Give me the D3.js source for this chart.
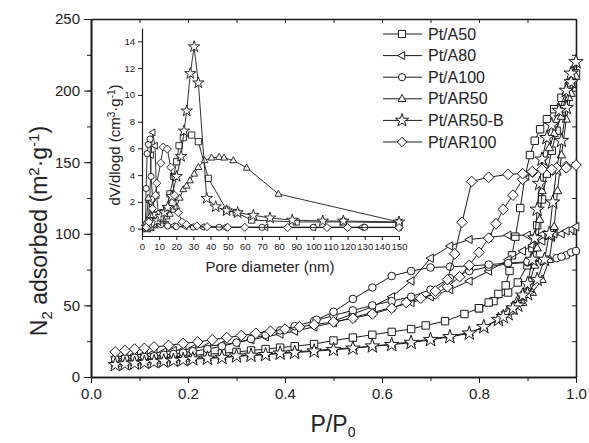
<!DOCTYPE html>
<html><head><meta charset="utf-8">
<script src="https://cdn.jsdelivr.net/npm/d3@7"></script>
<style>
body{margin:0;background:#fff}
svg{display:block}
text{font-family:"Liberation Sans",Arial,sans-serif;fill:#222}
</style>
</head><body>
<svg id="chart" width="589" height="443"></svg>
<script>
// ---------- data ----------
const seriesNames = ["Pt/A50","Pt/A80","Pt/A100","Pt/AR50","Pt/AR50-B","Pt/AR100"];
const markerTypes = ["square","triangleLeft","circle","triangleUp","star","diamond"];
const xTicksMain = [0,0.2,0.4,0.6,0.8,1.0];
const yTicksMain = [0,50,100,150,200,250];
const xTicksInset = [0,10,20,30,40,50,60,70,80,90,100,110,120,130,140,150];
const yTicksInset = [0,2,4,6,8,10,12,14];

// isotherms [P/P0, N2 adsorbed]
const a50Ads = [[0.05,11],[0.07,11.5],[0.09,12],[0.11,12.5],[0.13,13],[0.15,13.5],[0.17,14],[0.19,14.5],[0.21,15],[0.24,16],[0.27,16.5],[0.30,17.5],[0.33,18.5],[0.36,19.5],[0.39,20.5],[0.42,21.5],[0.46,23],[0.50,25.5],[0.54,27.5],[0.58,29.5],[0.62,31.5],[0.66,33.5],[0.69,36],[0.73,39],[0.77,44],[0.80,48],[0.83,53],[0.86,59],[0.88,66],[0.90,78],[0.91,90],[0.92,106],[0.93,124],[0.94,142],[0.95,158],[0.96,172],[0.97,185],[0.98,196],[0.99,205],[1.0,212]];
const a50Des = [[1.0,212],[0.985,203],[0.97,195],[0.955,187],[0.94,180],[0.926,173],[0.915,165],[0.905,155],[0.895,140],[0.885,118],[0.875,98],[0.868,85],[0.863,74],[0.855,64],[0.84,58],[0.82,52],[0.80,48]];
const a80Ads = [[0.05,14],[0.07,14.5],[0.09,15.5],[0.11,16],[0.13,17],[0.15,17.5],[0.17,18.5],[0.19,19],[0.21,20],[0.24,21.5],[0.27,22.5],[0.30,24],[0.33,26],[0.36,28],[0.39,30],[0.42,32],[0.46,35],[0.50,38],[0.54,41.5],[0.58,45],[0.62,48.5],[0.66,52],[0.70,56],[0.74,61],[0.78,67],[0.82,74],[0.86,82],[0.89,88],[0.91,92],[0.93,95],[0.95,97.5],[0.97,100],[0.99,103],[1.0,105]];
const a80Des = [[1.0,105],[0.98,102],[0.955,100],[0.93,99.5],[0.90,99],[0.86,99],[0.82,97.5],[0.78,96],[0.74,91.5],[0.70,83],[0.66,67],[0.62,56],[0.58,49],[0.54,44],[0.50,39]];
const a100Ads = [[0.05,12.5],[0.07,13],[0.09,13.5],[0.11,14],[0.13,14.5],[0.15,15.5],[0.17,16],[0.19,17],[0.21,18],[0.24,19.5],[0.27,21.5],[0.30,24],[0.33,26.5],[0.36,29.5],[0.39,32.5],[0.42,35.5],[0.46,39],[0.50,43],[0.54,46.5],[0.58,50],[0.62,53],[0.66,56],[0.70,61],[0.74,69],[0.78,74],[0.82,77],[0.86,79],[0.90,80],[0.93,81],[0.96,83],[0.98,85],[0.99,87],[1.0,88]];
const a100Des = [[1.0,88],[0.97,84],[0.94,82],[0.90,80.5],[0.86,79.5],[0.82,78.5],[0.78,77.5],[0.74,77],[0.70,76.5],[0.66,74],[0.62,70.5],[0.58,62.5],[0.54,54.5],[0.50,45.5],[0.465,40]];
const ar50Ads = [[0.05,9],[0.07,9.5],[0.09,10],[0.11,10.5],[0.13,11],[0.15,11.5],[0.17,12],[0.19,12.5],[0.21,13],[0.24,13.5],[0.27,14],[0.30,14.5],[0.33,15.5],[0.36,16],[0.39,16.5],[0.42,17.5],[0.46,18.5],[0.50,19.5],[0.54,20.5],[0.58,21.5],[0.62,23],[0.66,24.5],[0.70,26.5],[0.74,28.5],[0.78,31],[0.81,35],[0.84,40],[0.87,46],[0.89,52],[0.91,59],[0.93,68],[0.945,82],[0.955,105],[0.962,130],[0.97,155],[0.98,180],[0.99,198],[1.0,210]];
const ar50Des = [[1.0,210],[0.985,195],[0.97,182],[0.955,170],[0.945,160],[0.935,148],[0.93,130],[0.925,110],[0.92,90],[0.915,78],[0.905,67],[0.895,60],[0.88,54],[0.86,47]];
const ar50bAds = [[0.05,8.5],[0.07,9],[0.09,9.5],[0.11,10],[0.13,10.5],[0.15,11],[0.17,11.5],[0.19,12],[0.21,12.5],[0.24,13],[0.27,13.5],[0.30,14.5],[0.33,15],[0.36,15.5],[0.39,16.5],[0.42,17],[0.46,18],[0.50,19],[0.54,20],[0.58,21.5],[0.62,22.5],[0.66,24],[0.70,26],[0.74,28],[0.78,30.5],[0.81,35],[0.84,40],[0.86,44],[0.88,50],[0.90,58],[0.92,68],[0.935,82],[0.945,100],[0.952,122],[0.96,145],[0.97,165],[0.98,188],[0.99,206],[1.0,220]];
const ar50bDes = [[1.0,220],[0.99,212],[0.98,200],[0.965,186],[0.95,176],[0.94,167],[0.93,152],[0.925,135],[0.92,117],[0.915,97],[0.91,82],[0.90,65],[0.89,57],[0.87,48],[0.85,42]];
const ar100Ads = [[0.05,17.5],[0.07,18.5],[0.09,19.5],[0.11,20],[0.13,21],[0.16,22],[0.19,23.5],[0.22,24.5],[0.25,26],[0.28,27.5],[0.31,29],[0.34,30.5],[0.37,32],[0.40,33.5],[0.43,35],[0.46,36.5],[0.50,38.5],[0.54,41],[0.58,44],[0.62,48],[0.65,52],[0.68,55],[0.71,58],[0.735,63],[0.76,70],[0.78,78],[0.80,87],[0.82,97],[0.835,107],[0.85,117],[0.87,127],[0.89,138],[0.91,143],[0.93,145],[0.96,146],[0.98,147],[1.0,148]];
const ar100Des = [[1.0,148],[0.98,146],[0.95,145],[0.91,143.5],[0.89,142],[0.86,141.5],[0.82,139.5],[0.785,136.5],[0.765,108],[0.75,86],[0.735,68],[0.71,60]];

// pore size distributions [pore diameter nm, dV/dlogd]
const a50Psd = [[3,0],[5,0.1],[7,0.3],[9,0.6],[11,1.0],[12.5,1.2],[14.4,1.5],[16.3,2.6],[18.5,3.9],[20.2,5.0],[21.6,6.2],[24.1,6.8],[29,7.0],[32.9,6.5],[38.7,3.76],[49.4,1.39],[55,1.2],[64,0.64],[90,0.5],[117.5,0.5],[150,0.45]];
const a80Psd = [[2.5,0.1],[3.5,0.5],[4.5,2.0],[5.3,5.5],[6.2,7.2],[7.6,6.2],[8.5,2.5],[9.5,1.2],[11,0.5],[14,0.3],[18,0.2],[25,0.15],[35,0.12],[48,0.1],[72,0.1],[100,0.1],[128,0.1],[150,0.1]];
const a100Psd = [[2,0.3],[2.4,3.0],[3.0,5.6],[3.7,6.3],[4.7,6.7],[5.3,3.9],[6.2,2.2],[7.5,1.0],[9,0.5],[11,0.3],[15,0.2],[20,0.15],[30,0.12],[45,0.1],[70,0.1],[100,0.1],[130,0.1],[150,0.1]];
const ar50Psd = [[2.5,0.5],[3.7,2.3],[5,1.0],[7,0.6],[9,0.6],[11,0.6],[12.4,0.7],[14.5,0.9],[16.3,1.1],[18.2,1.4],[20.2,1.64],[22,2.3],[24.1,2.94],[26,3.2],[28,3.6],[30.5,4.1],[32.9,4.6],[36.5,5.1],[40.6,5.3],[45,5.35],[47.9,5.3],[53.3,5.1],[61.1,4.55],[79.6,2.59],[150,0.5]];
const ar50bPsd = [[3,0.1],[5,0.2],[7,0.4],[9,0.6],[11,0.9],[13,1.2],[15,1.6],[17.3,2.4],[20.2,3.9],[22.8,5.4],[24.5,7.3],[26.1,8.8],[28.2,11.6],[30.4,13.6],[32.9,10.9],[37.8,2.26],[43,1.64],[49.4,1.34],[55.8,1.2],[65,1.0],[74.7,0.8],[87.7,0.64],[105.5,0.57],[117.5,0.57],[150,0.5]];
const ar100Psd = [[2.5,0.1],[4,0.5],[6,1.5],[7.9,2.5],[8.6,3.4],[10.9,4.9],[12.4,6.1],[14.8,5.95],[16.7,4.6],[19,2.5],[21.2,1.2],[23.5,0.5],[26,0.3],[32,0.2],[38,0.15],[50,0.1],[60,0.1],[85,0.08],[108,0.08],[120,0.08],[150,0.08]];

const isoAds = [a50Ads,a80Ads,a100Ads,ar50Ads,ar50bAds,ar100Ads];
const isoDes = [a50Des,a80Des,a100Des,ar50Des,ar50bDes,ar100Des];
const psd = [a50Psd,a80Psd,a100Psd,ar50Psd,ar50bPsd,ar100Psd];

// ---------- drawing ----------
const svg = d3.select("#chart");
const ink = "#1a1a1a";

function markerPath(type, s){
  switch(type){
    case "square": return `M${-s},${-s}h${2*s}v${2*s}h${-2*s}Z`;
    case "circle": return d3.symbol(d3.symbolCircle, Math.PI*s*s)();
    case "triangleUp": return `M0,${-1.2*s}L${1.1*s},${0.75*s}L${-1.1*s},${0.75*s}Z`;
    case "triangleLeft": return `M${-1.2*s},0L${0.75*s},${-1.1*s}L${0.75*s},${1.1*s}Z`;
    case "diamond": return `M0,${-1.3*s}L${1.3*s},0L0,${1.3*s}L${-1.3*s},0Z`;
    case "star": return d3.symbol(d3.symbolStar, 4.2*s*s)();
  }
}
const mainSize = {square:3.7,triangleLeft:3.8,circle:3.8,triangleUp:3.8,star:3.9,diamond:4.1};

// main scales
const x = d3.scaleLinear([0,1],[91,576]);
const y = d3.scaleLinear([0,250],[377,19]);

function styleAxis(g, sw){
  g.selectAll(".domain").attr("stroke",ink).attr("stroke-width",sw);
  g.selectAll(".tick line").attr("stroke",ink).attr("stroke-width",1);
}

const xMinor = d3.range(0,1.0001,0.1);
const yMinor = d3.range(0,250.1,25);

// bottom
svg.append("g").attr("transform","translate(0,377)")
  .call(d3.axisBottom(x).tickValues(xMinor).tickFormat("").tickSize(4).tickSizeOuter(0)).call(g=>styleAxis(g,1.6));
svg.append("g").attr("transform","translate(0,377)")
  .call(d3.axisBottom(x).tickValues(xTicksMain).tickFormat(d3.format(".1f")).tickSize(6).tickSizeOuter(0).tickPadding(5))
  .call(g=>{styleAxis(g,1.6); g.selectAll("text").attr("font-size",15).attr("fill","#222");});
// left
svg.append("g").attr("transform","translate(91,0)")
  .call(d3.axisLeft(y).tickValues(yMinor).tickFormat("").tickSize(4).tickSizeOuter(0)).call(g=>styleAxis(g,1.6));
svg.append("g").attr("transform","translate(91,0)")
  .call(d3.axisLeft(y).tickValues(yTicksMain).tickSize(7).tickSizeOuter(0).tickPadding(4))
  .call(g=>{styleAxis(g,1.6); g.selectAll("text").attr("font-size",15).attr("fill","#222");});
// top (mirror, inward)
svg.append("g").attr("transform","translate(0,19)")
  .call(d3.axisTop(x).tickValues(xMinor).tickFormat("").tickSize(-4).tickSizeOuter(0)).call(g=>styleAxis(g,1.6));
// right (mirror, inward)
svg.append("g").attr("transform","translate(576,0)")
  .call(d3.axisRight(y).tickValues(yMinor).tickFormat("").tickSize(-4).tickSizeOuter(0)).call(g=>styleAxis(g,1.6));

// axis titles
const yt = svg.append("text").attr("transform","translate(47,231) rotate(-90)")
  .attr("text-anchor","middle").attr("font-size",23);
yt.append("tspan").text("N");
yt.append("tspan").attr("font-size",15).attr("baseline-shift","-30%").text("2");
yt.append("tspan").text(" adsorbed (m");
yt.append("tspan").attr("font-size",15).attr("baseline-shift","super").text("2");
yt.append("tspan").text("·g");
yt.append("tspan").attr("font-size",15).attr("baseline-shift","super").text("-1");
yt.append("tspan").text(")");

const xt = svg.append("text").attr("x",333).attr("y",432).attr("text-anchor","middle").attr("font-size",23);
xt.append("tspan").text("P/P");
xt.append("tspan").attr("font-size",14).attr("baseline-shift","-35%").text("0");

// main series
const lineMain = d3.line().x(d=>x(d[0])).y(d=>y(d[1]));
const mainG = svg.append("g");
seriesNames.forEach((name,i)=>{
  const g = mainG.append("g");
  [isoAds[i], isoDes[i]].forEach(br=>{
    g.append("path").attr("d",lineMain(br)).attr("fill","none").attr("stroke",ink).attr("stroke-width",1);
  });
  const pts = isoAds[i].concat(isoDes[i].slice(1));
  g.selectAll("path.m").data(pts).join("path").attr("class","m")
    .attr("d",markerPath(markerTypes[i], mainSize[markerTypes[i]]))
    .attr("transform",d=>`translate(${x(d[0])},${y(d[1])})`)
    .attr("fill","#fff").attr("stroke",ink).attr("stroke-width",1);
});

// inset
const ix = d3.scaleLinear([0,150],[142,399]);
const iy = d3.scaleLinear([-0.55,15],[236,28]);
svg.append("g").attr("transform","translate(0,236)")
  .call(d3.axisBottom(ix).tickValues(xTicksInset).tickSize(4).tickSizeOuter(0).tickPadding(3))
  .call(g=>{styleAxis(g,1.2); g.selectAll("text").attr("font-size",9.5).attr("fill","#222");});
svg.append("g").attr("transform","translate(142,0)")
  .call(d3.axisLeft(iy).tickValues(yTicksInset).tickSize(4).tickSizeOuter(0).tickPadding(3))
  .call(g=>{styleAxis(g,1.2); g.selectAll("text").attr("font-size",9.5).attr("fill","#222");});

svg.append("text").attr("x",270).attr("y",272).attr("text-anchor","middle").attr("font-size",15).text("Pore diameter (nm)");
const it = svg.append("text").attr("transform","translate(120,145) rotate(-90)").attr("text-anchor","middle").attr("font-size",15);
it.append("tspan").text("dV/dlogd (cm");
it.append("tspan").attr("font-size",10).attr("baseline-shift","super").text("3");
it.append("tspan").text("·g");
it.append("tspan").attr("font-size",10).attr("baseline-shift","super").text("-1");
it.append("tspan").text(")");

const lineIn = d3.line().x(d=>ix(d[0])).y(d=>iy(d[1]));
seriesNames.forEach((name,i)=>{
  const g = svg.append("g");
  g.append("path").attr("d",lineIn(psd[i])).attr("fill","none").attr("stroke",ink).attr("stroke-width",0.9);
  g.selectAll("path.m").data(psd[i]).join("path").attr("class","m")
    .attr("d",markerPath(markerTypes[i],3.1))
    .attr("transform",d=>`translate(${ix(d[0])},${iy(d[1])})`)
    .attr("fill","#fff").attr("stroke",ink).attr("stroke-width",0.9);
});

// legend
const legY = d3.range(6).map(i=>34+i*21.6);
const leg = svg.append("g");
seriesNames.forEach((name,i)=>{
  leg.append("line").attr("x1",383).attr("x2",422).attr("y1",legY[i]).attr("y2",legY[i]).attr("stroke",ink).attr("stroke-width",1);
  leg.append("path").attr("d",markerPath(markerTypes[i],3.6)).attr("transform",`translate(402,${legY[i]})`)
    .attr("fill","#fff").attr("stroke",ink).attr("stroke-width",1);
  leg.append("text").attr("x",428).attr("y",legY[i]+5.5).attr("font-size",16).text(name);
});
</script>
</body></html>
